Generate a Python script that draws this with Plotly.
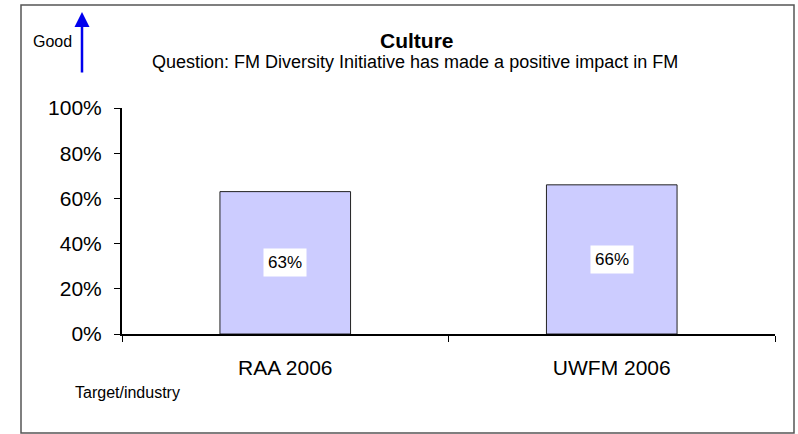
import plotly.graph_objects as go

categories = ["RAA 2006", "UWFM 2006"]
values = [0.63, 0.66]
value_labels = ["63%", "66%"]
y_tick_vals = [0, 0.2, 0.4, 0.6, 0.8, 1.0]
y_tick_text = ["0%", "20%", "40%", "60%", "80%", "100%"]

FONT = "Liberation Sans, Arial, sans-serif"

fig = go.Figure()
fig.add_trace(go.Bar(
    x=categories, y=values, width=0.4,
    marker=dict(color="#CCCCFF", line=dict(color="#222222", width=1)),
    hoverinfo="skip",
))

# value labels in white boxes at bar middles
for c, v, t in zip(categories, values, value_labels):
    fig.add_annotation(x=c, y=v / 2, xref="x", yref="y", text=t, showarrow=False,
                       xanchor="center", yanchor="middle",
                       bgcolor="white", font=dict(family=FONT, size=17, color="black"),
                       borderpad=4)

L, R, T, B = 122, 775, 108, 334
W, H = R - L, B - T
def px(x):
    return (x - L) / W
def py(y):
    return (B - y) / H

fig.add_shape(type="rect", xref="paper", yref="paper",
              x0=px(21), x1=px(794), y0=py(433), y1=py(5),
              line=dict(color="#555555", width=1.5), fillcolor="rgba(0,0,0,0)", layer="below")

def text_ann(x, y, text, size, xanchor="center"):
    fig.add_annotation(xref="paper", yref="paper", x=px(x), y=py(y), text=text,
                       xanchor=xanchor, yanchor="middle", showarrow=False,
                       font=dict(family=FONT, size=size, color="black"))

text_ann(417, 40, "<b>Culture</b>", 21)
text_ann(415, 62, "Question: FM Diversity Initiative has made a positive impact in FM", 18)
text_ann(52, 41, "Good", 16)
text_ann(73, 392, "Target/industry", 16, xanchor="left")

fig.add_annotation(xref="paper", yref="paper", x=px(82), y=py(12), text="",
                   showarrow=True, ax=0, ay=62, arrowcolor="#0000EE", arrowwidth=2.5,
                   arrowhead=2, arrowsize=1.2)

fig.update_layout(
    width=798, height=434,
    margin=dict(l=L, r=798 - R, t=T, b=434 - B),
    paper_bgcolor="white", plot_bgcolor="white",
    showlegend=False,
    font=dict(family=FONT, color="black"),
    xaxis=dict(range=[-0.5, 1.5], showline=True, linecolor="black", linewidth=2,
               ticks="outside", tickson="boundaries", ticklen=6, tickcolor="black",
               ticklabelstandoff=14,
               tickfont=dict(size=21), showgrid=False, zeroline=False, fixedrange=True),
    yaxis=dict(range=[0, 1], tickvals=y_tick_vals, ticktext=y_tick_text,
               showline=True, linecolor="black", linewidth=2,
               ticks="outside", ticklen=6, tickcolor="black", ticklabelstandoff=8,
               tickfont=dict(size=21), showgrid=False, zeroline=False, fixedrange=True),
)

fig.write_html("out.html", config={"displayModeBar": False},
               post_script="document.body.style.margin='0';document.body.style.overflow='hidden';")
